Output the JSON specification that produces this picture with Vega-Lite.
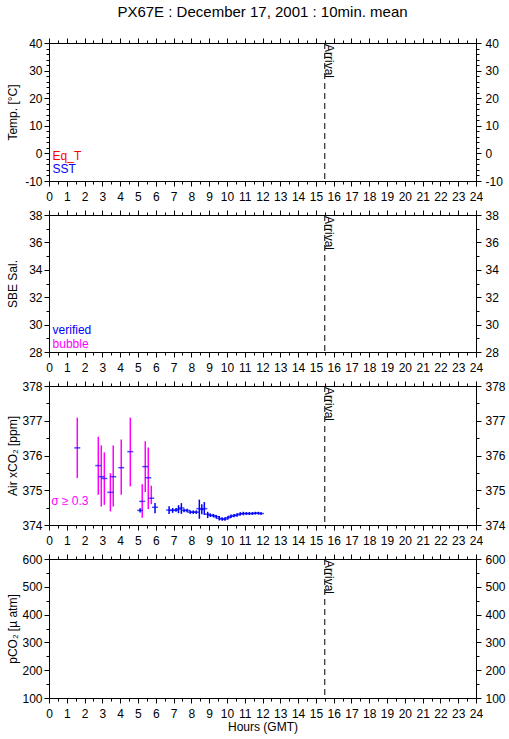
{
  "$schema": "https://vega.github.io/schema/vega-lite/v6.json",
  "padding": {"left": 5, "top": 4, "right": 5, "bottom": 5},
  "background": "white",
  "bounds": "flush",
  "spacing": 34,
  "config": {
    "view": {"stroke": "black", "strokeWidth": 1},
    "font": "Liberation Sans",
    "axis": {
      "domain": false, "grid": false, "tickColor": "black", "tickWidth": 1,
      "labelColor": "black", "labelFont": "Liberation Sans", "labelFontSize": 12,
      "labelFlush": false, "labelOverlap": false, "labelBound": false,
      "titleFont": "Liberation Sans", "titleFontSize": 12, "titleFontWeight": "normal", "titleColor": "black"
    },
    "text": {"font": "Liberation Sans"},
    "title": {"font": "Liberation Sans", "fontWeight": "normal", "color": "black"}
  },
  "datasets": {
    "arrival": [{"t": 15.5, "event": "Arrival"}],
    "xco2": [
      {"t": 1.59, "co2": 376.22, "lo": 375.35, "hi": 377.09, "flag": "bubble"},
      {"t": 2.77, "co2": 375.71, "lo": 374.87, "hi": 376.54, "flag": "bubble"},
      {"t": 2.94, "co2": 375.39, "lo": 374.53, "hi": 376.29, "flag": "bubble"},
      {"t": 3.11, "co2": 375.34, "lo": 374.58, "hi": 376.09, "flag": "bubble"},
      {"t": 3.45, "co2": 374.94, "lo": 374.39, "hi": 375.49, "flag": "bubble"},
      {"t": 3.61, "co2": 375.39, "lo": 374.53, "hi": 376.29, "flag": "bubble"},
      {"t": 4.06, "co2": 375.65, "lo": 374.87, "hi": 376.46, "flag": "bubble"},
      {"t": 4.57, "co2": 376.11, "lo": 375.11, "hi": 377.09, "flag": "bubble"},
      {"t": 5.12, "co2": 374.42, "lo": 374.36, "hi": 374.48, "flag": "verified"},
      {"t": 5.24, "co2": 374.68, "lo": 374.21, "hi": 375.17, "flag": "bubble"},
      {"t": 5.41, "co2": 375.68, "lo": 374.95, "hi": 376.41, "flag": "bubble"},
      {"t": 5.58, "co2": 375.36, "lo": 374.46, "hi": 376.23, "flag": "bubble"},
      {"t": 5.75, "co2": 374.77, "lo": 374.6, "hi": 375.13, "flag": "bubble"},
      {"t": 5.96, "co2": 374.51, "lo": 374.34, "hi": 374.63, "flag": "verified"},
      {"t": 6.75, "co2": 374.43, "lo": 374.32, "hi": 374.54, "flag": "verified"},
      {"t": 6.95, "co2": 374.42, "lo": 374.35, "hi": 374.49, "flag": "verified"},
      {"t": 7.14, "co2": 374.43, "lo": 374.38, "hi": 374.48, "flag": "verified"},
      {"t": 7.28, "co2": 374.46, "lo": 374.34, "hi": 374.57, "flag": "verified"},
      {"t": 7.44, "co2": 374.49, "lo": 374.32, "hi": 374.63, "flag": "verified"},
      {"t": 7.59, "co2": 374.42, "lo": 374.37, "hi": 374.47, "flag": "verified"},
      {"t": 7.76, "co2": 374.42, "lo": 374.37, "hi": 374.47, "flag": "verified"},
      {"t": 7.94, "co2": 374.37, "lo": 374.32, "hi": 374.42, "flag": "verified"},
      {"t": 8.11, "co2": 374.37, "lo": 374.32, "hi": 374.42, "flag": "verified"},
      {"t": 8.28, "co2": 374.37, "lo": 374.32, "hi": 374.42, "flag": "verified"},
      {"t": 8.45, "co2": 374.47, "lo": 374.18, "hi": 374.73, "flag": "verified"},
      {"t": 8.59, "co2": 374.45, "lo": 374.31, "hi": 374.6, "flag": "verified"},
      {"t": 8.73, "co2": 374.47, "lo": 374.29, "hi": 374.66, "flag": "verified"},
      {"t": 8.92, "co2": 374.31, "lo": 374.2, "hi": 374.38, "flag": "verified"},
      {"t": 9.07, "co2": 374.28, "lo": 374.23, "hi": 374.33, "flag": "verified"},
      {"t": 9.24, "co2": 374.27, "lo": 374.22, "hi": 374.32, "flag": "verified"},
      {"t": 9.4, "co2": 374.24, "lo": 374.19, "hi": 374.29, "flag": "verified"},
      {"t": 9.57, "co2": 374.19, "lo": 374.13, "hi": 374.26, "flag": "verified"},
      {"t": 9.74, "co2": 374.17, "lo": 374.12, "hi": 374.22, "flag": "verified"},
      {"t": 9.89, "co2": 374.17, "lo": 374.12, "hi": 374.22, "flag": "verified"},
      {"t": 10.06, "co2": 374.21, "lo": 374.16, "hi": 374.26, "flag": "verified"},
      {"t": 10.23, "co2": 374.25, "lo": 374.2, "hi": 374.3, "flag": "verified"},
      {"t": 10.4, "co2": 374.27, "lo": 374.22, "hi": 374.32, "flag": "verified"},
      {"t": 10.57, "co2": 374.29, "lo": 374.24, "hi": 374.34, "flag": "verified"},
      {"t": 10.75, "co2": 374.32, "lo": 374.27, "hi": 374.37, "flag": "verified"},
      {"t": 10.92, "co2": 374.33, "lo": 374.28, "hi": 374.38, "flag": "verified"},
      {"t": 11.09, "co2": 374.33, "lo": 374.29, "hi": 374.37, "flag": "verified"},
      {"t": 11.26, "co2": 374.33, "lo": 374.29, "hi": 374.37, "flag": "verified"},
      {"t": 11.43, "co2": 374.33, "lo": 374.29, "hi": 374.37, "flag": "verified"},
      {"t": 11.6, "co2": 374.34, "lo": 374.3, "hi": 374.38, "flag": "verified"},
      {"t": 11.77, "co2": 374.34, "lo": 374.3, "hi": 374.38, "flag": "verified"},
      {"t": 11.92, "co2": 374.33, "lo": 374.29, "hi": 374.37, "flag": "verified"}
    ]
  },
  "vconcat": [
    {
      "width": 427, "height": 138,
      "title": {"text": "PX67E : December 17, 2001 : 10min. mean", "fontSize": 15, "anchor": "middle", "frame": "group", "offset": 17},
      "data": {"name": "arrival"},
      "layer": [
        {
          "mark": {"type": "rule", "strokeDash": [6, 4], "color": "black", "strokeWidth": 1},
          "encoding": {
            "x": {"field": "t", "type": "quantitative", "scale": {"domain": [0, 24], "nice": false},
              "axis": {"orient": "bottom", "title": null, "labelPadding": 5,
                "values": [0,0.5,1,1.5,2,2.5,3,3.5,4,4.5,5,5.5,6,6.5,7,7.5,8,8.5,9,9.5,10,10.5,11,11.5,12,12.5,13,13.5,14,14.5,15,15.5,16,16.5,17,17.5,18,18.5,19,19.5,20,20.5,21,21.5,22,22.5,23,23.5,24],
                "labelExpr": "datum.value % 1 === 0 ? '' + datum.value : ''",
                "tickSize": {"condition": {"test": "datum.value % 1 === 0", "value": 5}, "value": 3}}},
            "y": {"datum": 40, "type": "quantitative", "scale": {"domain": [-10, 40], "nice": false},
              "axis": {"orient": "left", "title": "Temp. [°C]", "titleX": -37, "titleBaseline": "middle", "labelPadding": 2,
                "values": [-10,-8,-6,-4,-2,0,2,4,6,8,10,12,14,16,18,20,22,24,26,28,30,32,34,36,38,40],
                "labelExpr": "datum.value % 10 === 0 ? '' + datum.value : ''",
                "tickSize": {"condition": {"test": "datum.value % 10 === 0", "value": 5}, "value": 3}}},
            "y2": {"datum": -10}
          }
        },
        {
          "mark": {"type": "text", "angle": 90, "align": "left", "baseline": "alphabetic", "fontSize": 12, "color": "black", "dx": 1},
          "encoding": {
            "x": {"field": "t", "type": "quantitative",
              "axis": {"orient": "top", "title": null, "labels": false,
                "values": [0,0.5,1,1.5,2,2.5,3,3.5,4,4.5,5,5.5,6,6.5,7,7.5,8,8.5,9,9.5,10,10.5,11,11.5,12,12.5,13,13.5,14,14.5,15,15.5,16,16.5,17,17.5,18,18.5,19,19.5,20,20.5,21,21.5,22,22.5,23,23.5,24],
                "tickSize": {"condition": {"test": "datum.value % 1 === 0", "value": 5}, "value": 3}}},
            "y": {"datum": 40, "type": "quantitative",
              "axis": {"orient": "right", "title": null, "labelPadding": 4,
                "values": [-10,-8,-6,-4,-2,0,2,4,6,8,10,12,14,16,18,20,22,24,26,28,30,32,34,36,38,40],
                "labelExpr": "datum.value % 10 === 0 ? '' + datum.value : ''",
                "tickSize": {"condition": {"test": "datum.value % 10 === 0", "value": 5}, "value": 3}}},
            "text": {"field": "event"}
          }
        },
        {
          "mark": {"type": "text", "text": "Eq_T", "color": "#ff0000", "align": "left", "baseline": "middle", "fontSize": 12},
          "encoding": {"x": {"datum": 0.2, "type": "quantitative", "axis": null}, "y": {"datum": -1.0, "type": "quantitative", "axis": null}}
        },
        {
          "mark": {"type": "text", "text": "SST", "color": "#0000ff", "align": "left", "baseline": "middle", "fontSize": 12},
          "encoding": {"x": {"datum": 0.2, "type": "quantitative", "axis": null}, "y": {"datum": -5.7, "type": "quantitative", "axis": null}}
        }
      ],
      "resolve": {"axis": {"x": "independent", "y": "independent"}}
    },
    {
      "width": 427, "height": 137,
      "data": {"name": "arrival"},
      "layer": [
        {
          "mark": {"type": "rule", "strokeDash": [6, 4], "color": "black", "strokeWidth": 1},
          "encoding": {
            "x": {"field": "t", "type": "quantitative", "scale": {"domain": [0, 24], "nice": false},
              "axis": {"orient": "bottom", "title": null, "labelPadding": 5,
                "values": [0,0.5,1,1.5,2,2.5,3,3.5,4,4.5,5,5.5,6,6.5,7,7.5,8,8.5,9,9.5,10,10.5,11,11.5,12,12.5,13,13.5,14,14.5,15,15.5,16,16.5,17,17.5,18,18.5,19,19.5,20,20.5,21,21.5,22,22.5,23,23.5,24],
                "labelExpr": "datum.value % 1 === 0 ? '' + datum.value : ''",
                "tickSize": {"condition": {"test": "datum.value % 1 === 0", "value": 5}, "value": 3}}},
            "y": {"datum": 38, "type": "quantitative", "scale": {"domain": [28, 38], "nice": false},
              "axis": {"orient": "left", "title": "SBE Sal.", "titleX": -37, "titleBaseline": "middle", "labelPadding": 2,
                "values": [28,29,30,31,32,33,34,35,36,37,38],
                "labelExpr": "datum.value % 2 === 0 ? '' + datum.value : ''",
                "tickSize": {"condition": {"test": "datum.value % 2 === 0", "value": 5}, "value": 3}}},
            "y2": {"datum": 28}
          }
        },
        {
          "mark": {"type": "text", "angle": 90, "align": "left", "baseline": "alphabetic", "fontSize": 12, "color": "black", "dx": 1},
          "encoding": {
            "x": {"field": "t", "type": "quantitative",
              "axis": {"orient": "top", "title": null, "labels": false,
                "values": [0,0.5,1,1.5,2,2.5,3,3.5,4,4.5,5,5.5,6,6.5,7,7.5,8,8.5,9,9.5,10,10.5,11,11.5,12,12.5,13,13.5,14,14.5,15,15.5,16,16.5,17,17.5,18,18.5,19,19.5,20,20.5,21,21.5,22,22.5,23,23.5,24],
                "tickSize": {"condition": {"test": "datum.value % 1 === 0", "value": 5}, "value": 3}}},
            "y": {"datum": 38, "type": "quantitative",
              "axis": {"orient": "right", "title": null, "labelPadding": 4,
                "values": [28,29,30,31,32,33,34,35,36,37,38],
                "labelExpr": "datum.value % 2 === 0 ? '' + datum.value : ''",
                "tickSize": {"condition": {"test": "datum.value % 2 === 0", "value": 5}, "value": 3}}},
            "text": {"field": "event"}
          }
        },
        {
          "mark": {"type": "text", "text": "verified", "color": "#0000ff", "align": "left", "baseline": "middle", "fontSize": 12},
          "encoding": {"x": {"datum": 0.2, "type": "quantitative", "axis": null}, "y": {"datum": 29.6, "type": "quantitative", "axis": null}}
        },
        {
          "mark": {"type": "text", "text": "bubble", "color": "#ff00ff", "align": "left", "baseline": "middle", "fontSize": 12},
          "encoding": {"x": {"datum": 0.2, "type": "quantitative", "axis": null}, "y": {"datum": 28.6, "type": "quantitative", "axis": null}}
        }
      ],
      "resolve": {"axis": {"x": "independent", "y": "independent"}}
    },
    {
      "width": 427, "height": 139,
      "data": {"name": "arrival"},
      "layer": [
        {
          "mark": {"type": "rule", "strokeDash": [6, 4], "color": "black", "strokeWidth": 1},
          "encoding": {
            "x": {"field": "t", "type": "quantitative", "scale": {"domain": [0, 24], "nice": false},
              "axis": {"orient": "bottom", "title": null, "labelPadding": 5,
                "values": [0,0.5,1,1.5,2,2.5,3,3.5,4,4.5,5,5.5,6,6.5,7,7.5,8,8.5,9,9.5,10,10.5,11,11.5,12,12.5,13,13.5,14,14.5,15,15.5,16,16.5,17,17.5,18,18.5,19,19.5,20,20.5,21,21.5,22,22.5,23,23.5,24],
                "labelExpr": "datum.value % 1 === 0 ? '' + datum.value : ''",
                "tickSize": {"condition": {"test": "datum.value % 1 === 0", "value": 5}, "value": 3}}},
            "y": {"datum": 378, "type": "quantitative", "scale": {"domain": [374, 378], "nice": false},
              "axis": {"orient": "left", "title": "Air xCO₂ [ppm]", "titleX": -37, "titleBaseline": "middle", "labelPadding": 2,
                "values": [374,374.5,375,375.5,376,376.5,377,377.5,378],
                "labelExpr": "datum.value % 1 === 0 ? '' + datum.value : ''",
                "tickSize": {"condition": {"test": "datum.value % 1 === 0", "value": 5}, "value": 3}}},
            "y2": {"datum": 374}
          }
        },
        {
          "mark": {"type": "text", "angle": 90, "align": "left", "baseline": "alphabetic", "fontSize": 12, "color": "black", "dx": 1},
          "encoding": {
            "x": {"field": "t", "type": "quantitative",
              "axis": {"orient": "top", "title": null, "labels": false,
                "values": [0,0.5,1,1.5,2,2.5,3,3.5,4,4.5,5,5.5,6,6.5,7,7.5,8,8.5,9,9.5,10,10.5,11,11.5,12,12.5,13,13.5,14,14.5,15,15.5,16,16.5,17,17.5,18,18.5,19,19.5,20,20.5,21,21.5,22,22.5,23,23.5,24],
                "tickSize": {"condition": {"test": "datum.value % 1 === 0", "value": 5}, "value": 3}}},
            "y": {"datum": 378, "type": "quantitative",
              "axis": {"orient": "right", "title": null, "labelPadding": 4,
                "values": [374,374.5,375,375.5,376,376.5,377,377.5,378],
                "labelExpr": "datum.value % 1 === 0 ? '' + datum.value : ''",
                "tickSize": {"condition": {"test": "datum.value % 1 === 0", "value": 5}, "value": 3}}},
            "text": {"field": "event"}
          }
        },
        {
          "data": {"name": "xco2"},
          "mark": {"type": "rule", "strokeWidth": 1.5},
          "encoding": {
            "x": {"field": "t", "type": "quantitative", "axis": null},
            "y": {"field": "lo", "type": "quantitative", "axis": null},
            "y2": {"field": "hi"},
            "color": {"field": "flag", "type": "nominal", "scale": {"domain": ["bubble", "verified"], "range": ["#ff00ff", "#0000ff"]}, "legend": null}
          }
        },
        {
          "data": {"name": "xco2"},
          "mark": {"type": "tick", "orient": "horizontal", "color": "#0000ff", "size": 6, "thickness": 1.5},
          "encoding": {
            "x": {"field": "t", "type": "quantitative", "axis": null},
            "y": {"field": "co2", "type": "quantitative", "axis": null}
          }
        },
        {
          "mark": {"type": "text", "text": "σ ≥ 0.3", "color": "#ff00ff", "align": "left", "baseline": "middle", "fontSize": 12},
          "encoding": {"x": {"datum": 0.12, "type": "quantitative", "axis": null}, "y": {"datum": 374.68, "type": "quantitative", "axis": null}}
        }
      ],
      "resolve": {"axis": {"x": "independent", "y": "independent"}}
    },
    {
      "width": 427, "height": 139,
      "data": {"name": "arrival"},
      "layer": [
        {
          "mark": {"type": "rule", "strokeDash": [6, 4], "color": "black", "strokeWidth": 1},
          "encoding": {
            "x": {"field": "t", "type": "quantitative", "scale": {"domain": [0, 24], "nice": false},
              "axis": {"orient": "bottom", "title": "Hours (GMT)", "titlePadding": 2, "labelPadding": 5,
                "values": [0,0.5,1,1.5,2,2.5,3,3.5,4,4.5,5,5.5,6,6.5,7,7.5,8,8.5,9,9.5,10,10.5,11,11.5,12,12.5,13,13.5,14,14.5,15,15.5,16,16.5,17,17.5,18,18.5,19,19.5,20,20.5,21,21.5,22,22.5,23,23.5,24],
                "labelExpr": "datum.value % 1 === 0 ? '' + datum.value : ''",
                "tickSize": {"condition": {"test": "datum.value % 1 === 0", "value": 5}, "value": 3}}},
            "y": {"datum": 600, "type": "quantitative", "scale": {"domain": [100, 600], "nice": false},
              "axis": {"orient": "left", "title": "pCO₂ [µ atm]", "titleX": -37, "titleBaseline": "middle", "labelPadding": 2,
                "values": [100,150,200,250,300,350,400,450,500,550,600],
                "labelExpr": "datum.value % 100 === 0 ? '' + datum.value : ''",
                "tickSize": {"condition": {"test": "datum.value % 100 === 0", "value": 5}, "value": 3}}},
            "y2": {"datum": 100}
          }
        },
        {
          "mark": {"type": "text", "angle": 90, "align": "left", "baseline": "alphabetic", "fontSize": 12, "color": "black", "dx": 1},
          "encoding": {
            "x": {"field": "t", "type": "quantitative",
              "axis": {"orient": "top", "title": null, "labels": false,
                "values": [0,0.5,1,1.5,2,2.5,3,3.5,4,4.5,5,5.5,6,6.5,7,7.5,8,8.5,9,9.5,10,10.5,11,11.5,12,12.5,13,13.5,14,14.5,15,15.5,16,16.5,17,17.5,18,18.5,19,19.5,20,20.5,21,21.5,22,22.5,23,23.5,24],
                "tickSize": {"condition": {"test": "datum.value % 1 === 0", "value": 5}, "value": 3}}},
            "y": {"datum": 600, "type": "quantitative",
              "axis": {"orient": "right", "title": null, "labelPadding": 4,
                "values": [100,150,200,250,300,350,400,450,500,550,600],
                "labelExpr": "datum.value % 100 === 0 ? '' + datum.value : ''",
                "tickSize": {"condition": {"test": "datum.value % 100 === 0", "value": 5}, "value": 3}}},
            "text": {"field": "event"}
          }
        }
      ],
      "resolve": {"axis": {"x": "independent", "y": "independent"}}
    }
  ]
}
